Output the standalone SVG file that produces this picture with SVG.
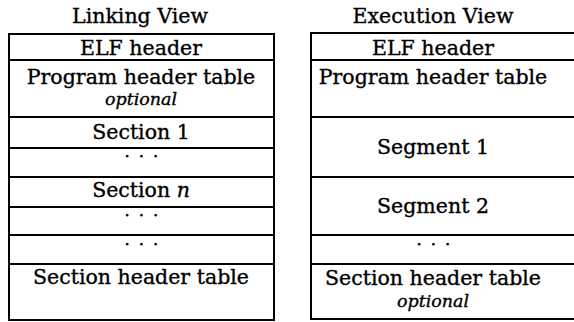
<svg xmlns="http://www.w3.org/2000/svg" width="574" height="322" viewBox="0 0 574 322">
<style>
.box{fill:#fff;stroke:#000;stroke-width:2}
.t{font-family:"DejaVu Serif","Liberation Serif",serif;font-size:20.5px;fill:#000;stroke:#000;stroke-width:0.35;text-anchor:middle}
.i{font-style:italic;font-size:17.5px}
.d{font-size:12px;letter-spacing:3.3px;stroke-width:1.1}
</style>
<rect width="574" height="322" fill="#fff"/>
<text class="t" x="140" y="23">Linking View</text>
<text class="t" x="433" y="23">Execution View</text>
<g id="linking">
<g id="l-elf"><rect class="box" x="9" y="34" width="265" height="26"/><text class="t" x="141" y="55">ELF header</text></g>
<g id="l-pht"><rect class="box" x="9" y="60" width="265" height="57"/><text class="t" x="141" y="84">Program header table</text><text class="t i" x="141" y="105">optional</text></g>
<g id="l-s1"><rect class="box" x="9" y="117" width="265" height="31"/><text class="t" x="141" y="139">Section 1</text></g>
<g id="l-d1"><rect class="box" x="9" y="148" width="265" height="29"/><text class="t d" x="143" y="157">. . .</text></g>
<g id="l-sn"><rect class="box" x="9" y="177" width="265" height="30"/><text class="t" x="141" y="197">Section <tspan font-style="italic">n</tspan></text></g>
<g id="l-d2"><rect class="box" x="9" y="207" width="265" height="28"/><text class="t d" x="143" y="216">. . .</text></g>
<g id="l-d3"><rect class="box" x="9" y="235" width="265" height="29"/><text class="t d" x="143" y="245">. . .</text></g>
<g id="l-sht"><rect class="box" x="9" y="264" width="265" height="56"/><text class="t" x="141" y="284">Section header table</text></g>
</g>
<g id="execution">
<g id="r-elf"><rect class="box" x="311" y="33" width="270" height="27"/><text class="t" x="433" y="55">ELF header</text></g>
<g id="r-pht"><rect class="box" x="311" y="60" width="270" height="57"/><text class="t" x="433" y="84">Program header table</text></g>
<g id="r-seg1"><rect class="box" x="311" y="117" width="270" height="60"/><text class="t" x="433" y="154">Segment 1</text></g>
<g id="r-seg2"><rect class="box" x="311" y="177" width="270" height="58"/><text class="t" x="433" y="213">Segment 2</text></g>
<g id="r-d"><rect class="box" x="311" y="235" width="270" height="29"/><text class="t d" x="435" y="245">. . .</text></g>
<g id="r-sht"><rect class="box" x="311" y="264" width="270" height="55"/><text class="t" x="433" y="285">Section header table</text><text class="t i" x="433" y="307">optional</text></g>
</g>
</svg>
